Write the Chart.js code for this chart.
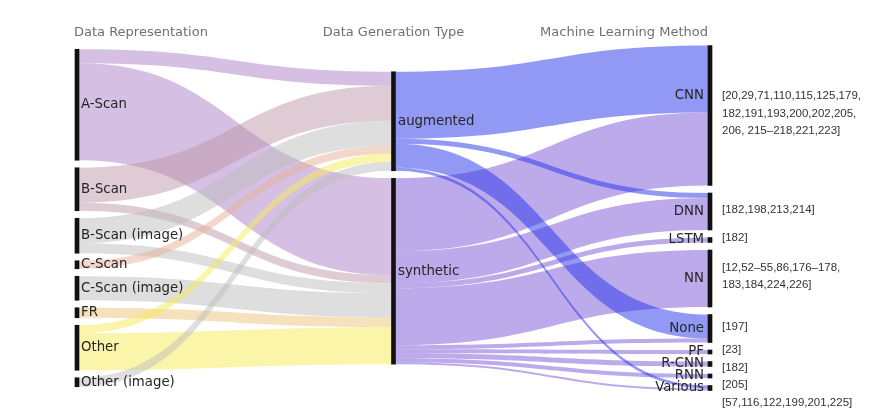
<!DOCTYPE html>
<html>
<head>
<meta charset="utf-8">
<script src="https://cdn.jsdelivr.net/npm/chart.js@4.4.0/dist/chart.umd.min.js"></script>
<style>
  html, body { margin:0; padding:0; background:#fff; }
  #wrap { width:891px; height:420px; }
</style>
</head>
<body>
<div id="wrap"><canvas id="sankey" width="891" height="420"></canvas></div>
<script>
/* ── DATA ──────────────────────────────── */
const COLUMN_TITLES = ['Data Representation', 'Data Generation Type', 'Machine Learning Method'];

const REPRESENTATIONS  = ['A-Scan','B-Scan','B-Scan (image)','C-Scan','C-Scan (image)','FR','Other','Other (image)'];
const GENERATION_TYPES = ['augmented','synthetic'];
const METHODS          = ['CNN','DNN','LSTM','NN','None','PF','R-CNN','RNN','Various'];

// flow widths (left column -> middle column), one per representation
const TO_AUGMENTED = [14, 35, 25, 8,  0,  0,  8, 9];
const TO_SYNTHETIC = [97,  8, 10, 0, 24, 10, 37, 0];

// flow widths (middle column -> right column), one per method
const AUGMENTED_TO = [67,  5, 0,  0, 24, 0, 0, 0, 3];
const SYNTHETIC_TO = [73, 32, 5, 57,  4, 4, 5, 4, 2];

const METHOD_REFS = [
  ['[20,29,71,110,115,125,179,', '182,191,193,200,202,205,', '206, 215–218,221,223]'],
  ['[182,198,213,214]'],
  ['[182]'],
  ['[12,52–55,86,176–178,', '183,184,224,226]'],
  ['[197]'],
  ['[23]'],
  ['[182]'],
  ['[205]'],
  ['[57,116,122,199,201,225]'],
];

/* ── STYLE ─────────────────────────────── */
const REP_COLORS = [
  'rgba(171,127,199,0.5)', 'rgba(191,152,170,0.5)', 'rgba(189,189,189,0.5)', 'rgba(229,177,150,0.5)',
  'rgba(189,189,189,0.5)', 'rgba(236,196,122,0.5)', 'rgba(248,236,86,0.5)',  'rgba(189,189,189,0.5)',
];
const GEN_COLORS = ['rgba(37,51,235,0.5)', 'rgba(121,85,215,0.5)'];

const PAD    = 7.5;   // gap between nodes, in value units
const MID    = 218;   // vertical centre of every column
const NODE_W = 4;
const LABEL_FONT = '13.3px "DejaVu Sans", Verdana, sans-serif';
const TITLE_FONT = '13px "DejaVu Sans", Verdana, sans-serif';
const REF_FONT   = '11.5px "Liberation Sans", Arial, sans-serif';
const LABEL_NUDGE = { CNN: -20 };

/* ── BUILD NODES + LINKS ───────────────── */
const nodes = [];
REPRESENTATIONS.forEach(n => nodes.push({ name:n, col:0 }));
GENERATION_TYPES.forEach(n => nodes.push({ name:n, col:1 }));
METHODS.forEach(n => nodes.push({ name:n, col:2 }));
nodes.forEach((n, i) => { n.idx = i; n.ins = []; n.outs = []; });

const links = [];
const gen0 = REPRESENTATIONS.length, met0 = gen0 + GENERATION_TYPES.length;
function addLink(s, t, v, color) {
  if (!v) return;
  const l = { s, t, v, color };
  links.push(l);
  nodes[s].outs.push(l);
  nodes[t].ins.push(l);
}
REPRESENTATIONS.forEach((_, i) => {
  addLink(i, gen0,     TO_AUGMENTED[i], REP_COLORS[i]);
  addLink(i, gen0 + 1, TO_SYNTHETIC[i], REP_COLORS[i]);
});
METHODS.forEach((_, j) => {
  addLink(gen0,     met0 + j, AUGMENTED_TO[j], GEN_COLORS[0]);
  addLink(gen0 + 1, met0 + j, SYNTHETIC_TO[j], GEN_COLORS[1]);
});

function layout() {
  const sum = a => a.reduce((s, l) => s + l.v, 0);
  nodes.forEach(n => n.size = Math.max(sum(n.ins), sum(n.outs)));
  [0, 1, 2].forEach(c => {
    const col = nodes.filter(n => n.col === c);
    const total = col.reduce((s, n) => s + n.size, 0) + PAD * (col.length - 1);
    let y = MID - total / 2;
    col.forEach(n => { n.y0 = y; n.y1 = y + n.size; y = n.y1 + PAD; });
  });
  nodes.forEach(n => {
    let oy = n.y0;
    n.outs.sort((a, b) => a.t - b.t).forEach(l => { l.sy0 = oy; oy += l.v; l.sy1 = oy; });
    let iy = n.y0;
    n.ins.sort((a, b) => a.s - b.s).forEach(l => { l.ty0 = iy; iy += l.v; l.ty1 = iy; });
  });
}
layout();

/* ── PLUGINS ───────────────────────────── */
const linksPlugin = {
  id: 'sankeyLinks',
  beforeDatasetsDraw(chart) {
    const { ctx, scales: { x, y } } = chart;
    ctx.save();
    links.forEach(l => {
      const x0 = x.getPixelForValue(nodes[l.s].col) + NODE_W / 2;
      const x1 = x.getPixelForValue(nodes[l.t].col) - NODE_W / 2;
      const xm = (x0 + x1) / 2;
      const a0 = y.getPixelForValue(l.sy0), a1 = y.getPixelForValue(l.sy1);
      const b0 = y.getPixelForValue(l.ty0), b1 = y.getPixelForValue(l.ty1);
      ctx.beginPath();
      ctx.moveTo(x0, a0);
      ctx.bezierCurveTo(xm, a0, xm, b0, x1, b0);
      ctx.lineTo(x1, b1);
      ctx.bezierCurveTo(xm, b1, xm, a1, x0, a1);
      ctx.closePath();
      ctx.fillStyle = l.color;
      ctx.fill();
    });
    ctx.restore();
  }
};

const labelsPlugin = {
  id: 'sankeyLabels',
  afterDatasetsDraw(chart) {
    const { ctx, scales: { x, y } } = chart;
    ctx.save();
    ctx.textBaseline = 'middle';

    // column titles
    ctx.font = TITLE_FONT;
    ctx.fillStyle = '#707070';
    const aligns = ['left', 'center', 'right'];
    const shift  = [-3, 0, -2];
    COLUMN_TITLES.forEach((t, c) => {
      ctx.textAlign = aligns[c];
      ctx.fillText(t, x.getPixelForValue(c) + shift[c], 33);
    });

    // node labels
    ctx.font = LABEL_FONT;
    ctx.fillStyle = '#262626';
    nodes.forEach(n => {
      const px = x.getPixelForValue(n.col);
      const py = y.getPixelForValue((n.y0 + n.y1) / 2) + (LABEL_NUDGE[n.name] || 0);
      if (n.col === 2) { ctx.textAlign = 'right'; ctx.fillText(n.name, px - 6, py); }
      else { ctx.textAlign = 'left'; ctx.fillText(n.name, px + (n.col === 0 ? 4 : 4.5), py); }
    });

    // reference lists beside the methods
    ctx.font = REF_FONT;
    ctx.fillStyle = '#333';
    ctx.textAlign = 'left';
    const LH = 17.5;
    let last = -Infinity;
    const rx = x.getPixelForValue(2) + 12;
    METHODS.forEach((m, j) => {
      const n = nodes[met0 + j];
      const lines = METHOD_REFS[j];
      let first = y.getPixelForValue((n.y0 + n.y1) / 2) - (lines.length - 1) * LH / 2 - 2;
      if (first < last + LH) first = last + LH;
      lines.forEach((s, k) => ctx.fillText(s, rx, first + k * LH));
      last = first + (lines.length - 1) * LH;
    });
    ctx.restore();
  }
};

/* ── CHART ─────────────────────────────── */
new Chart(document.getElementById('sankey'), {
  type: 'bar',
  data: {
    datasets: [{
      data: nodes.map(n => ({ x: n.col, y: [n.y0, n.y1] })),
      backgroundColor: '#111',
      borderWidth: 0,
      barThickness: NODE_W,
      clip: false,
    }]
  },
  options: {
    responsive: false,
    animation: false,
    layout: { padding: { left: 77, right: 181, top: 0, bottom: 0 } },
    plugins: { legend: { display: false }, tooltip: { enabled: false } },
    scales: {
      x: { type: 'linear', min: 0, max: 2, offset: false, display: false },
      y: { type: 'linear', min: 0, max: 420, reverse: true, display: false }
    }
  },
  plugins: [linksPlugin, labelsPlugin]
});
</script>
</body>
</html>
